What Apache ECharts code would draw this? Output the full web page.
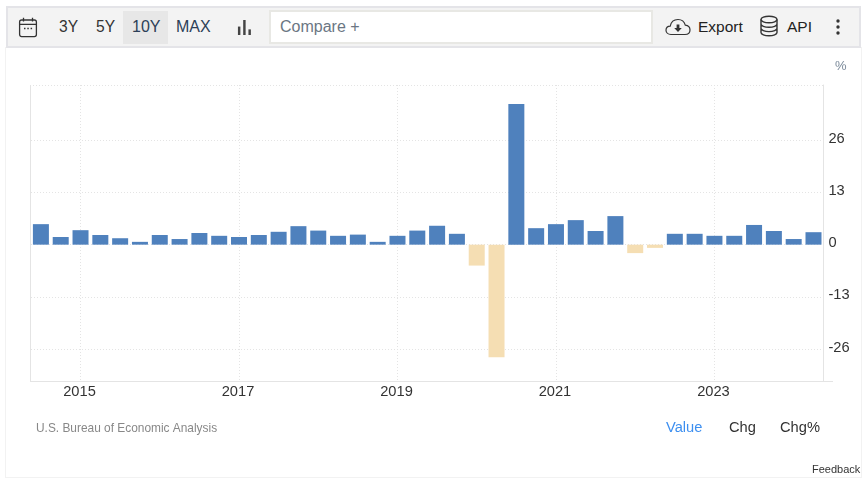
<!DOCTYPE html>
<html>
<head>
<meta charset="utf-8">
<title>Chart</title>
<script src="https://cdn.jsdelivr.net/npm/echarts@6/dist/echarts.min.js"></script>
<style>
  html, body { margin: 0; padding: 0; background: #fff; }
  body { width: 868px; height: 484px; position: relative; overflow: hidden; font-family: "Liberation Sans", Arial, sans-serif; }
  #panel { position: absolute; left: 5px; top: 47px; width: 855px; height: 430px; border: 1px solid #f2f2f2; border-top: none; box-sizing: content-box; }
  #chart { position: absolute; left: 0; top: 0; width: 868px; height: 484px; }
  #bar { position: absolute; left: 6px; top: 6px; width: 855px; height: 42px; box-sizing: border-box; background: #f3f3f3; border: 2px solid #e4e4e8; }
  #bar span, #bar svg, #bar div { position: absolute; }
  #bar span { font-size: 16px; line-height: 18px; top: 10px; color: #333; white-space: nowrap; }
  #active { left: 115px; top: 3px; width: 45px; height: 33px; background: #e7e7e7; }
  #compare { left: 261px; top: 2px; width: 384px; height: 34px; box-sizing: border-box; background: #fff; border: 2px solid #e8e8e4; }
</style>
</head>
<body>
<div id="panel"></div>
<div id="chart"></div>
<div id="bar">
  <svg style="left:10px;top:9px" width="20" height="21" viewBox="0 0 20 21" fill="none" stroke="#333" stroke-width="1.3">
    <rect x="1.6" y="3" width="16.8" height="16.6" rx="2"/>
    <path d="M1.6 7.4H18.4M5.5 .8V4.5M14.5 .8V4.5"/>
    <path d="M6 11.5h1.5M9.3 11.5h1.5M12.6 11.5h1.5" stroke-width="1.6"/>
  </svg>
  <span style="left:51px;font-size:15.6px">3Y</span>
  <span style="left:88px;font-size:15.6px">5Y</span>
  <div id="active"></div>
  <span style="left:124px;color:#2c4058">10Y</span>
  <span style="left:168px;color:#2c4058">MAX</span>
  <svg style="left:229px;top:11px" width="15" height="17" viewBox="0 0 16 18" fill="#444">
    <rect x="1" y="8" width="2.6" height="9"/><rect x="6.6" y="1" width="2.6" height="16"/><rect x="12.2" y="11" width="2.6" height="6"/>
  </svg>
  <div id="compare"></div>
  <span style="left:272px;color:#6b7683">Compare +</span>
  <svg style="left:657px;top:9px" width="26" height="20" viewBox="0 0 26 20" fill="none" stroke="#333" stroke-width="1.2">
    <path d="M6 17.5C2.8 17.5 1 15.4 1 13.2c0-2.2 1.8-3.9 4.2-4C6 5 9.200 2.500 13 2.500c3.700 0 6.400 2.300 7.300 5.600 2.700.3 4.700 2.400 4.700 4.900 0 2.600-2 4.500-5 4.500z"/>
    <path d="M11.600 7.500h2.800v3.500h2.400L13 15l-3.800-4h2.400z" fill="#333" stroke="none"/>
  </svg>
  <span style="left:690px;color:#222;font-size:15.5px">Export</span>
  <svg style="left:751px;top:7px" width="20" height="22" viewBox="0 0 20 22" fill="none" stroke="#333" stroke-width="1.4">
    <ellipse cx="10" cy="4.500" rx="8" ry="3.300"/>
    <path d="M2 4.500v13c0 1.800 3.600 3.300 8 3.300s8-1.500 8-3.300v-13M2 9c0 1.800 3.600 3.300 8 3.300s8-1.500 8-3.300M2 13.300c0 1.800 3.600 3.300 8 3.300s8-1.500 8-3.300"/>
  </svg>
  <span style="left:779px;color:#222;font-size:15.5px">API</span>
  <svg style="left:828px;top:10px" width="4" height="18" viewBox="0 0 4 18" fill="#333">
    <circle cx="2" cy="3" r="1.700"/><circle cx="2" cy="9" r="1.700"/><circle cx="2" cy="15" r="1.700"/>
  </svg>
</div>
<script>
// quarterly values
const quarters = [
  '2014-07', '2014-10', '2015-01', '2015-04', '2015-07', '2015-10', '2016-01', '2016-04',
  '2016-07', '2016-10', '2017-01', '2017-04', '2017-07', '2017-10', '2018-01', '2018-04',
  '2018-07', '2018-10', '2019-01', '2019-04', '2019-07', '2019-10', '2020-01', '2020-04',
  '2020-07', '2020-10', '2021-01', '2021-04', '2021-07', '2021-10', '2022-01', '2022-04',
  '2022-07', '2022-10', '2023-01', '2023-04', '2023-07', '2023-10', '2024-01', '2024-04'
];
const values = [
  5.1, 1.9, 3.6, 2.4, 1.6, 0.7, 2.4, 1.4,
  2.9, 2.2, 1.9, 2.4, 3.2, 4.6, 3.5, 2.2,
  2.5, 0.7, 2.2, 3.5, 4.7, 2.7, -5.2, -28,
  35, 4.1, 5.1, 6.1, 3.4, 7.1, -2.1, -0.8,
  2.7, 2.7, 2.2, 2.2, 4.9, 3.4, 1.4, 3.1
];
const yTicks = [-26, -13, 0, 13, 26];
const yMin = -33.9;
const yMax = 39.7;
const source = 'U.S. Bureau of Economic Analysis';
const unit = '%';

const gridColor = '#e4e4e4';
const textColor = '#333';
const fontFamily = '"Liberation Sans", Arial, sans-serif';

function isYearStart(index) {
  return quarters[index].endsWith('-01') && (parseInt(quarters[index]) % 2 === 1);
}

function label(left, top, text, color, size) {
  return {
    type: 'text',
    left: left,
    top: top,
    style: { text: text, fill: color, font: size + 'px ' + fontFamily }
  };
}

function rule(x1, y1, x2, y2, dash) {
  return {
    type: 'line',
    shape: { x1: x1, y1: y1, x2: x2, y2: y2 },
    silent: true,
    z: 0,
    style: { stroke: gridColor, lineWidth: 1, lineDash: dash }
  };
}

const chart = echarts.init(document.getElementById('chart'), null, { renderer: 'canvas' });

chart.setOption({
  animation: false,
  backgroundColor: 'transparent',
  grid: { left: 31, top: 85, width: 792.4, height: 296 },
  xAxis: {
    type: 'category',
    data: quarters,
    axisLine: { onZero: false, lineStyle: { color: gridColor, width: 1 } },
    axisTick: { show: false, alignWithLabel: true, interval: isYearStart },
    axisLabel: {
      interval: isYearStart,
      formatter: function (v) { return v.slice(0, 4); },
      color: textColor,
      fontFamily: fontFamily,
      fontSize: 14.67,
      margin: 3,
      padding: [0, 2, 0, 0]
    },
    splitLine: {
      show: true,
      alignWithLabel: true,
      interval: isYearStart,
      lineStyle: { color: gridColor, type: [1, 2] }
    }
  },
  yAxis: {
    type: 'value',
    position: 'right',
    min: yMin,
    max: yMax,
    axisLine: { show: true, lineStyle: { color: gridColor, width: 1 } },
    axisTick: { show: false, customValues: yTicks },
    axisLabel: {
      customValues: yTicks,
      color: textColor,
      fontFamily: fontFamily,
      fontSize: 14.67,
      margin: 5,
      verticalAlign: 'bottom',
      lineHeight: 3
    },
    splitLine: { show: true, lineStyle: { color: gridColor, type: [1, 2] } }
  },
  series: [{
    type: 'bar',
    data: values,
    barWidth: 16,
    itemStyle: {
      color: function (p) { return p.value < 0 ? '#f5deb3' : '#4f81bd'; }
    }
  }],
  graphic: [
    rule(30.5, 85, 30.5, 381.5),
    rule(30, 85.5, 823, 85.5, [1, 2]),
    rule(30, 381.5, 833, 381.5),
    label(835, 60, unit, '#7b8a9a', 13),
    label(36, 423, source, '#888', 11.9),
    label(666, 420, 'Value', '#3d8ff0', 14.67),
    label(729, 420, 'Chg', textColor, 14.67),
    label(780, 420, 'Chg%', textColor, 14.67),
    label(812, 464, 'Feedback', textColor, 11)
  ]
});
</script>
</body>
</html>
